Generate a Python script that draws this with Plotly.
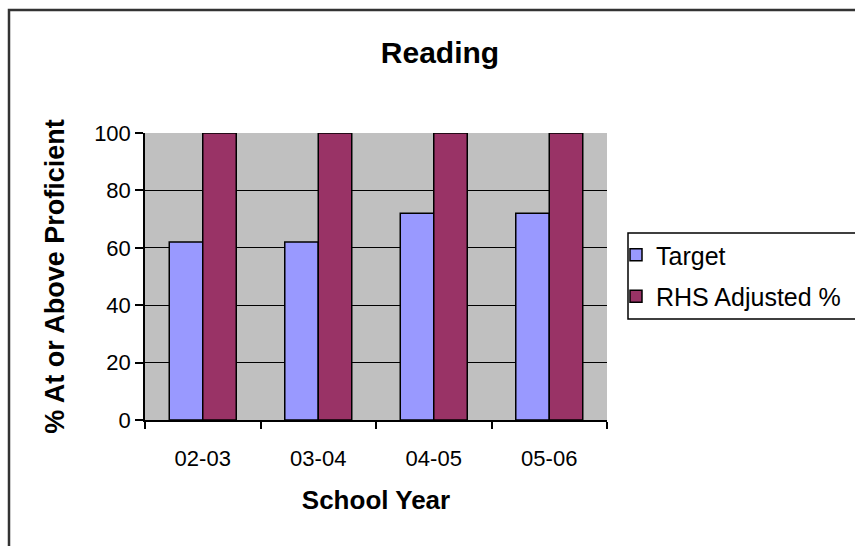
import plotly.graph_objects as go

years = ["02-03", "03-04", "04-05", "05-06"]
target = [62, 62, 72, 72]
rhs_adjusted = [100, 100, 100, 100]
y_ticks = [0, 20, 40, 60, 80, 100]

FONT = "Liberation Sans, Arial, sans-serif"

fig = go.Figure()
fig.add_trace(go.Bar(
    x=years, y=target, name="Target", legendgroup="t",
    marker=dict(color="#9999FF", line=dict(color="black", width=1.5)),
))
fig.add_trace(go.Bar(
    x=years, y=rhs_adjusted, name="RHS Adjusted %", legendgroup="r",
    marker=dict(color="#993366", line=dict(color="black", width=1.5)),
))

W, H = 855, 546
L, R, T, B = 145, 248, 133, 126
pw, ph = W - L - R, H - T - B

def px_x(x):
    return (x - L) / pw

def px_y(y):
    return (H - B - y) / ph

fig.update_layout(
    width=W, height=H,
    margin=dict(l=L, r=R, t=T, b=B, pad=0, autoexpand=False),
    paper_bgcolor="white",
    plot_bgcolor="#C0C0C0",
    barmode="group",
    bargap=0.42,
    bargroupgap=0,
    font=dict(family=FONT, color="black", size=22),
    title=dict(
        text="<b>Reading</b>",
        font=dict(family=FONT, size=30, color="black"),
        xref="container", x=440 / W, xanchor="center",
        yref="container", y=1 - 52 / H, yanchor="middle",
    ),
    xaxis=dict(
        type="category",
        showline=True, linecolor="black", linewidth=1.5,
        ticks="outside", tickson="boundaries", ticklen=7, tickwidth=1.5, tickcolor="black",
        tickfont=dict(family=FONT, size=22),
        ticklabelstandoff=18,
        title=dict(text="<b>School Year</b>", font=dict(family=FONT, size=26), standoff=21),
        showgrid=False,
    ),
    yaxis=dict(
        range=[0, 100], tickvals=y_ticks,
        showline=True, linecolor="black", linewidth=1.5,
        ticks="outside", ticklen=8, tickwidth=1.5, tickcolor="black",
        tickfont=dict(family=FONT, size=22),
        showgrid=True, gridcolor="black", gridwidth=1.2,
        zeroline=False,
        title=dict(text="<b>% At or Above Proficient</b>", font=dict(family=FONT, size=27), standoff=22),
    ),
    legend=dict(
        x=px_x(616), y=px_y(232), xanchor="left", yanchor="top",
        bgcolor="rgba(0,0,0,0)", borderwidth=0,
        font=dict(family=FONT, size=25),
        traceorder="grouped", tracegroupgap=6,
    ),
    showlegend=True,
)

# outer chart frame
fig.add_shape(
    type="rect", xref="paper", yref="paper",
    x0=px_x(9), x1=px_x(875), y0=px_y(560), y1=px_y(10),
    line=dict(color="#333333", width=2.5), fillcolor="rgba(0,0,0,0)", layer="below",
)
# legend frame
fig.add_shape(
    type="rect", xref="paper", yref="paper",
    x0=px_x(628), x1=px_x(880), y0=px_y(319), y1=px_y(233),
    line=dict(color="black", width=1.5), fillcolor="white", layer="below",
)

fig.write_html("out.html")
